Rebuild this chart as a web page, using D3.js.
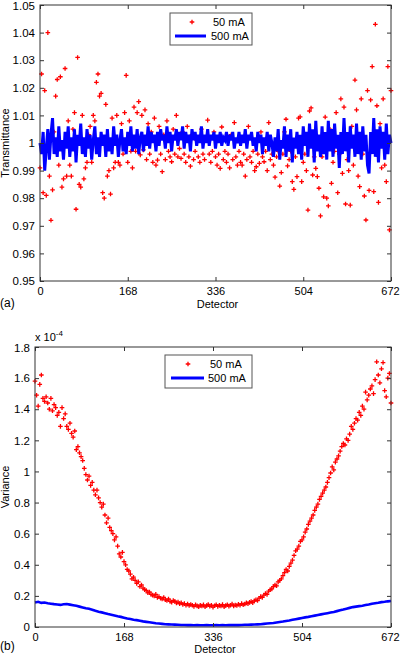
<!DOCTYPE html>
<html><head><meta charset="utf-8">
<script src="https://cdn.jsdelivr.net/npm/d3@7"></script>
<style>
html,body{margin:0;padding:0;background:#fff;}
svg text{font-family:"Liberation Sans",Arial,Helvetica,sans-serif;fill:#000;}
</style></head>
<body>
<svg id="chart" width="400" height="654"></svg>
<script>
// ---------------- DATA ----------------
const seriesNames = ["50 mA", "500 mA"];
const xTicks = [0, 168, 336, 504, 672];
const yTicksTop = [0.95, 0.96, 0.97, 0.98, 0.99, 1.00, 1.01, 1.02, 1.03, 1.04, 1.05];
const yTickLabelsTop = ["0.95","0.96","0.97","0.98","0.99","1","1.01","1.02","1.03","1.04","1.05"];
const yTicksBottom = [0, 0.2, 0.4, 0.6, 0.8, 1.0, 1.2, 1.4, 1.6, 1.8];
const yTickLabelsBottom = ["0","0.2","0.4","0.6","0.8","1","1.2","1.4","1.6","1.8"];

// detectors sampled every 3rd channel (0..672)
const detStep3 = d3.range(0, 673, 3);
// detectors sampled every 6th channel (0..672)
const detStep6 = d3.range(0, 673, 6);

// (a) transmittance, 50 mA (red markers)
const trans50 = [
 0.991,1.025,0.982,1.019,0.981,1.040,0.988,0.972,0.983,1.004,1.017,1.023,0.992,1.024,0.984,
 0.987,1.027,0.988,1.008,0.992,0.988,1.005,1.011,0.976,1.031,0.985,0.984,1.010,0.987,0.991,
 0.993,1.003,1.006,0.993,1.010,1.008,1.022,1.025,1.017,1.018,0.982,0.980,1.014,0.988,0.990,
 0.9815,1.009,0.991,0.993,1.010,0.993,0.992,1.007,0.996,1.011,1.0245,0.993,1.008,0.997,0.991,
 1.013,0.997,1.011,1.015,0.9957,1.010,0.9975,1.012,0.994,1.007,0.996,1.004,0.993,1.009,0.992,
 0.9938,1.006,0.996,0.9896,1.003,0.994,1.008,0.997,0.995,0.9932,1.005,0.996,1.010,0.995,0.998,
 0.9944,1.004,0.996,0.993,1.006,0.995,0.9916,1.003,0.994,0.997,1.001,0.995,0.993,1.005,0.996,
 0.994,1.002,1.0083,0.996,0.993,0.997,1.004,0.995,0.992,0.996,0.9908,1.0058,0.994,0.997,0.993,
 0.996,0.991,1.003,0.994,1.0074,0.995,0.992,0.997,0.993,0.992,0.996,0.988,0.994,1.006,0.995,
 0.993,0.997,0.990,0.9914,0.996,0.9926,1.004,0.995,0.9932,0.997,0.990,1.0074,0.994,0.996,0.992,
 0.9876,0.995,0.997,0.9844,0.9893,0.996,1.004,1.0086,0.9917,0.994,0.997,0.986,0.9832,0.995,0.9878,
 1.009,1.0095,0.986,0.993,0.996,0.990,0.9757,1.0116,1.0127,0.9884,0.995,0.9908,0.9878,0.9836,0.9736,
 0.995,0.9805,1.0094,0.980,0.9772,1.005,0.9854,0.993,0.997,1.011,0.982,0.996,1.016,0.989,1.013,
 0.9779,0.994,0.990,0.9775,1.006,0.992,1.0228,1.012,0.988,0.9842,1.016,0.996,0.9808,0.9721,1.019,
 0.9828,1.0156,1.0277,0.9824,1.043,1.0135,0.9785,1.007,0.991,1.016,0.992,0.986,1.0277,0.9685,1.019
];

// (a) transmittance, 500 mA (blue line)
const trans500 = [
 1.000,0.996,1.004,0.990,0.998,1.005,0.994,1.003,1.009,0.996,1.002,0.995,1.006,0.997,1.001,
 0.994,1.004,0.998,1.006,0.995,1.002,0.997,1.005,0.993,1.003,0.999,1.007,0.996,1.002,0.995,
 1.005,0.998,1.003,0.994,1.001,1.006,0.996,1.002,0.995,1.004,0.999,1.003,0.995,1.005,0.997,
 1.002,0.996,1.006,0.999,1.003,0.995,1.001,1.005,0.997,1.002,0.996,1.004,0.999,1.006,0.997,
 1.003,0.998,1.005,0.996,1.002,1.004,0.997,1.003,0.999,1.006,0.998,1.004,1.000,1.003,0.997,
 1.004,0.999,1.005,1.001,1.003,0.998,1.006,1.000,1.004,0.997,1.003,1.001,1.005,0.999,1.004,
 1.001,1.006,0.998,1.004,1.000,1.003,0.997,1.005,1.001,1.004,0.999,1.003,1.000,1.006,0.998,
 1.003,1.000,1.005,0.999,1.003,1.001,1.004,0.998,1.003,1.000,1.004,0.999,1.002,1.001,1.004,
 0.999,1.003,1.001,1.004,0.998,1.002,1.000,1.004,0.999,1.003,1.000,1.005,0.998,1.003,1.001,
 1.004,0.999,1.002,0.997,1.004,1.000,1.003,0.996,1.002,0.999,1.004,0.997,1.003,1.000,0.995,
 1.002,0.997,1.005,0.994,1.001,0.998,1.006,0.995,1.003,0.997,1.005,0.993,1.002,0.998,1.004,
 0.996,1.003,0.994,1.006,0.999,1.004,0.995,1.007,0.998,1.005,0.993,1.008,0.997,1.003,0.995,
 1.006,0.996,1.004,0.994,1.008,0.997,1.005,0.995,1.007,0.998,1.003,0.991,1.004,0.996,1.009,
 0.997,1.004,0.993,1.006,0.998,1.003,0.995,1.007,0.996,1.004,0.994,1.006,0.997,1.003,0.992,
 0.989,1.004,0.996,1.009,0.995,1.005,0.993,1.006,0.998,1.004,0.994,1.007,0.996,1.003,1.000
];

// (b) variance (x 1e-4), 50 mA (red markers)
const var50 = [
 1.58,1.49,1.42,1.56,1.62,1.47,1.45,1.48,1.44,1.40,1.47,1.39,1.43,1.41,1.36,
 1.38,1.29,1.41,1.34,1.37,1.29,1.27,1.31,1.245,1.22,1.26,1.14,1.16,1.12,1.095,
 1.07,1.02,0.98,0.945,0.97,0.91,0.93,0.88,0.85,0.88,0.83,0.80,0.77,0.79,0.72,
 0.67,0.70,0.64,0.62,0.60,0.56,0.58,0.52,0.47,0.45,0.48,0.42,0.40,0.37,0.36,
 0.34,0.31,0.32,0.30,0.28,0.29,0.26,0.27,0.25,0.24,0.235,0.22,0.225,0.21,0.205,
 0.20,0.21,0.19,0.195,0.185,0.18,0.19,0.175,0.17,0.18,0.165,0.16,0.17,0.165,0.155,
 0.16,0.15,0.155,0.145,0.15,0.14,0.148,0.138,0.145,0.14,0.132,0.142,0.136,0.13,0.14,
 0.135,0.142,0.13,0.138,0.145,0.133,0.14,0.128,0.137,0.143,0.132,0.139,0.135,0.144,0.13,
 0.138,0.143,0.134,0.14,0.147,0.136,0.141,0.138,0.146,0.14,0.15,0.143,0.148,0.155,0.15,
 0.158,0.163,0.157,0.168,0.175,0.17,0.185,0.195,0.19,0.205,0.215,0.21,0.23,0.24,0.245,
 0.26,0.27,0.265,0.29,0.30,0.31,0.33,0.35,0.37,0.36,0.39,0.41,0.43,0.46,0.49,
 0.50,0.52,0.55,0.56,0.58,0.61,0.63,0.66,0.68,0.70,0.72,0.75,0.77,0.79,0.82,
 0.84,0.86,0.88,0.90,0.93,0.96,0.99,1.03,1.01,1.06,1.08,1.10,1.13,1.16,1.18,
 1.17,1.21,1.20,1.24,1.29,1.27,1.31,1.34,1.33,1.38,1.36,1.42,1.40,1.51,1.46,
 1.49,1.53,1.55,1.50,1.59,1.705,1.62,1.57,1.66,1.70,1.52,1.48,1.60,1.63,1.44
];

// (b) variance (x 1e-4), 500 mA (blue line)
const var500 = [
 0.158,0.162,0.155,0.157,0.153,0.150,0.147,0.145,0.142,0.146,0.148,0.144,0.140,0.136,0.131,0.126,0.121,0.117,0.111,
 0.104,0.098,0.094,0.089,0.083,0.079,0.074,0.069,0.065,0.060,0.055,0.052,0.047,0.044,0.040,0.036,0.033,0.030,0.027,
 0.024,0.022,0.020,0.018,0.017,0.016,0.015,0.014,0.013,0.013,0.012,0.012,0.011,0.012,0.011,0.011,0.012,0.011,0.011,
 0.012,0.011,0.012,0.011,0.012,0.012,0.013,0.012,0.013,0.014,0.014,0.015,0.016,0.017,0.018,0.020,0.022,0.024,0.026,
 0.029,0.032,0.035,0.039,0.042,0.046,0.050,0.054,0.058,0.062,0.065,0.069,0.073,0.077,0.081,0.085,0.089,0.093,0.097,
 0.102,0.107,0.112,0.118,0.123,0.128,0.131,0.134,0.137,0.141,0.145,0.150,0.153,0.156,0.160,0.162,0.165,0.167
];

// ---------------- DRAW ----------------
const svg = d3.select("#chart");
const RED = "#ff0000", BLUE = "#0000ff", AX = "#333";
const plusPath = "M-2.3,0H2.3M0,-2.3V2.3";

function panel(cfg) {
  const g = svg.append("g");
  const x = d3.scaleLinear().domain([0, 672]).range([cfg.left, cfg.right]);
  const y = d3.scaleLinear().domain(cfg.yDomain).range([cfg.bottom, cfg.top]);

  // red markers
  g.append("g").selectAll("path").data(cfg.red).join("path")
    .attr("d", plusPath)
    .attr("transform", (d, i) => `translate(${x(cfg.redX[i])},${y(d)})`)
    .attr("stroke", RED).attr("stroke-width", 1.3).attr("fill", "none");

  // blue line
  const line = d3.line().x((d, i) => x(cfg.blueX[i])).y(d => y(d));
  g.append("path").datum(cfg.blue).attr("d", line)
    .attr("fill", "none").attr("stroke", BLUE).attr("stroke-width", cfg.blueW)
    .attr("stroke-linejoin", "miter");

  // axes (ticks inside, box)
  const fmtY = d => cfg.yLabels[cfg.yTicks.indexOf(d)];
  const axB = g.append("g").attr("transform", `translate(0,${cfg.bottom})`)
    .call(d3.axisBottom(x).tickValues(xTicks).tickSizeInner(-4).tickSizeOuter(0).tickPadding(6).tickFormat(d3.format("d")));
  const axL = g.append("g").attr("transform", `translate(${cfg.left},0)`)
    .call(d3.axisLeft(y).tickValues(cfg.yTicks).tickSizeInner(-4).tickSizeOuter(0).tickPadding(5).tickFormat(fmtY));
  const axT = g.append("g").attr("transform", `translate(0,${cfg.top})`)
    .call(d3.axisTop(x).tickValues(xTicks).tickSizeInner(-4).tickSizeOuter(0).tickFormat(""));
  const axR = g.append("g").attr("transform", `translate(${cfg.right},0)`)
    .call(d3.axisRight(y).tickValues(cfg.yTicks).tickSizeInner(-4).tickSizeOuter(0).tickFormat(""));
  [axB, axL, axT, axR].forEach(a => {
    a.select(".domain").remove();
    a.selectAll("line").attr("stroke", AX);
  });
  axB.selectAll("text").style("font-size", "11px").attr("fill", "#000");
  axL.selectAll("text").style("font-size", "11.5px").attr("fill", "#000");
  // keep the last x label inside the canvas
  axB.selectAll(".tick").filter(d => d === xTicks[xTicks.length - 1]).select("text").attr("dx", "-1px");
  // keep the top y label inside the canvas
  axL.selectAll(".tick").filter(d => d === cfg.yTicks[cfg.yTicks.length - 1]).select("text").attr("dy", "0.40em");

  g.append("rect").attr("x", cfg.left).attr("y", cfg.top)
    .attr("width", cfg.right - cfg.left).attr("height", cfg.bottom - cfg.top)
    .attr("fill", "none").attr("stroke", AX).attr("stroke-width", 1);

  // labels
  g.append("text").attr("x", (cfg.left + cfg.right) / 2 + 2).attr("y", cfg.titleY)
    .attr("text-anchor", "middle").style("font-size", "11px").text("Detector");
  g.append("text").attr("transform", `translate(9,${(cfg.top + cfg.bottom) / 2}) rotate(-90)`)
    .attr("text-anchor", "middle").style("font-size", "11px").text(cfg.yTitle);
  g.append("text").attr("x", 0).attr("y", cfg.tagY).style("font-size", "12px").text(cfg.tag);

  // legend
  const L = cfg.legend;
  g.append("rect").attr("x", L.x).attr("y", L.y).attr("width", L.w).attr("height", L.h)
    .attr("fill", "#fff").attr("stroke", "#555").attr("stroke-width", 1);
  g.append("path").attr("d", plusPath).attr("transform", `translate(${L.mx},${L.y + 9})`)
    .attr("stroke", RED).attr("stroke-width", 1.3);
  g.append("line").attr("x1", L.lx1).attr("x2", L.lx2).attr("y1", L.y + 23).attr("y2", L.y + 23)
    .attr("stroke", BLUE).attr("stroke-width", 3);
  g.append("text").attr("x", L.tx).attr("y", L.y + 13).style("font-size", "11px").text(seriesNames[0]);
  g.append("text").attr("x", L.tx - 2).attr("y", L.y + 27).style("font-size", "11px").text(seriesNames[1]);
  return g;
}

panel({
  left: 40, right: 391, top: 5, bottom: 281,
  yDomain: [0.95, 1.05], yTicks: yTicksTop, yLabels: yTickLabelsTop,
  red: trans50, redX: detStep3, blue: trans500, blueX: detStep3, blueW: 3,
  yTitle: "Transmittance", tag: "(a)", titleY: 308, tagY: 307,
  legend: {x: 170, y: 13, w: 82, h: 32, mx: 192, lx1: 175, lx2: 206, tx: 213}
});

const gb = panel({
  left: 35, right: 391, top: 347, bottom: 627,
  yDomain: [0, 1.8], yTicks: yTicksBottom, yLabels: yTickLabelsBottom,
  red: var50, redX: detStep3, blue: var500, blueX: detStep6, blueW: 2.6,
  yTitle: "Variance", tag: "(b)", titleY: 653, tagY: 650,
  legend: {x: 165, y: 355, w: 87, h: 33, mx: 188, lx1: 171, lx2: 204, tx: 210}
});

// exponent label
const ex = gb.append("text").attr("x", 35).attr("y", 341).style("font-size", "11px");
ex.append("tspan").text("x 10");
ex.append("tspan").attr("dy", -5).style("font-size", "8px").text("-4");
</script>
</body></html>
